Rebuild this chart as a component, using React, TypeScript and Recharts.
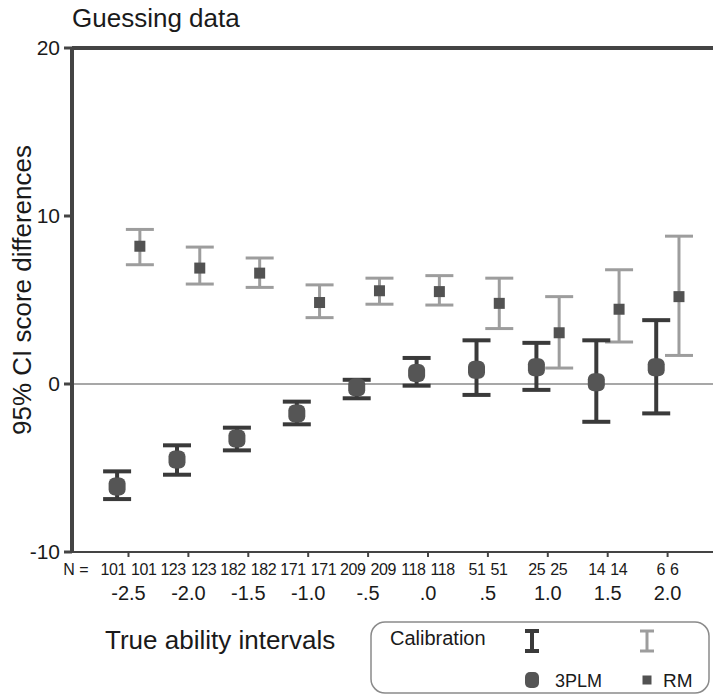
import React from 'react';
import {
  ScatterChart,
  Scatter,
  ErrorBar,
  XAxis,
  YAxis,
  ReferenceLine,
} from 'recharts';

// Ability interval categories and the sample sizes shown under each pair
const categories = ['-2.5', '-2.0', '-1.5', '-1.0', '-.5', '.0', '.5', '1.0', '1.5', '2.0'];
const nPlm = [101, 123, 182, 171, 209, 118, 51, 25, 14, 6];
const nRm = [101, 123, 182, 171, 209, 118, 51, 25, 14, 6];

// 3PLM calibration: mean and 95% CI bounds
const plmMean = [-6.1, -4.5, -3.25, -1.75, -0.2, 0.65, 0.85, 1.0, 0.1, 1.0];
const plmLow = [-6.85, -5.4, -3.95, -2.4, -0.85, -0.1, -0.65, -0.35, -2.25, -1.75];
const plmHigh = [-5.2, -3.65, -2.6, -1.05, 0.25, 1.55, 2.6, 2.45, 2.6, 3.8];

// RM calibration: mean and 95% CI bounds
const rmMean = [8.2, 6.9, 6.6, 4.85, 5.55, 5.5, 4.8, 3.05, 4.45, 5.2];
const rmLow = [7.1, 5.95, 5.75, 3.95, 4.75, 4.7, 3.3, 0.95, 2.5, 1.7];
const rmHigh = [9.2, 8.15, 7.5, 5.9, 6.3, 6.45, 6.3, 5.2, 6.8, 8.8];

const yTicks = [-10, 0, 10, 20];

const PAIR_OFFSET = 0.19;
const DARK = '#3a3a3a';
const LIGHT = '#9d9d9d';
const AXIS = '#444444';
const FONT = '"Liberation Sans", Arial, Helvetica, sans-serif';

const plmData = categories.map((_, i) => ({
  x: i - PAIR_OFFSET,
  y: plmMean[i],
  err: [plmMean[i] - plmLow[i], plmHigh[i] - plmMean[i]],
}));

const rmData = categories.map((_, i) => ({
  x: i + PAIR_OFFSET,
  y: rmMean[i],
  err: [rmMean[i] - rmLow[i], rmHigh[i] - rmMean[i]],
}));

const PlmMarker = (props: any) => {
  const { cx, cy } = props;
  if (cx == null || cy == null) return null;
  return <rect x={cx - 8.5} y={cy - 9} width={17} height={18} rx={6} fill="#555555" />;
};

const RmMarker = (props: any) => {
  const { cx, cy } = props;
  if (cx == null || cy == null) return null;
  return <rect x={cx - 5.5} y={cy - 5.5} width={11} height={11} fill="#525252" />;
};

const CategoryTick = (props: any) => {
  const { x, y, payload } = props;
  const i = payload.value as number;
  return (
    <g fontFamily={FONT} fill="#1a1a1a">
      {i === 0 && (
        <text x={x - 40} y={y + 16} textAnchor="end" fontSize={16}>
          N =
        </text>
      )}
      <text x={x - 2.5} y={y + 16} textAnchor="end" fontSize={16} letterSpacing={-0.4}>
        {nPlm[i]}
      </text>
      <text x={x + 2.5} y={y + 16} textAnchor="start" fontSize={16} letterSpacing={-0.4}>
        {nRm[i]}
      </text>
      <text x={x} y={y + 41} textAnchor="middle" fontSize={20}>
        {categories[i]}
      </text>
    </g>
  );
};

const TitleLabel = (props: any) => {
  const vb = props.viewBox || {};
  return (
    <text x={vb.x} y={vb.y - 21} fontSize={26} fontFamily={FONT} fill="#1a1a1a">
      Guessing data
    </text>
  );
};

const XTitle = (props: any) => {
  const vb = props.viewBox || {};
  return (
    <text x={vb.x + 33} y={vb.y + 97} fontSize={26} fontFamily={FONT} fill="#1a1a1a">
      True ability intervals
    </text>
  );
};

const YTitle = (props: any) => {
  const vb = props.viewBox || {};
  const cx = 22;
  const cy = vb.y + vb.height / 2 - 10;
  return (
    <text
      x={cx}
      y={cy}
      transform={`rotate(-90, ${cx}, ${cy})`}
      textAnchor="middle"
      dominantBaseline="central"
      fontSize={26}
      fontFamily={FONT}
      fill="#1a1a1a"
    >
      95% CI score differences
    </text>
  );
};

// Key for the two calibration models, drawn in a rounded box
const LegendBox = () => (
  <svg width={342} height={74} style={{ display: 'block' }}>
    <rect x={1} y={1} width={338} height={71} rx={14} fill="none" stroke="#8a8a8a" strokeWidth={1.5} />
    <text x={20} y={24} fontSize={20} fontFamily={FONT} fill="#1a1a1a">
      Calibration
    </text>
    <g stroke={DARK} strokeWidth={4}>
      <line x1={162} y1={9} x2={162} y2={31} />
      <line x1={155} y1={10} x2={169} y2={10} />
      <line x1={155} y1={30} x2={169} y2={30} />
    </g>
    <g stroke={LIGHT} strokeWidth={3}>
      <line x1={277} y1={9} x2={277} y2={31} />
      <line x1={270} y1={10} x2={284} y2={10} />
      <line x1={270} y1={30} x2={284} y2={30} />
    </g>
    <rect x={155} y={51} width={14} height={16} rx={5} fill="#555555" />
    <text x={185} y={66} fontSize={18} fontFamily={FONT} fill="#1a1a1a">
      3PLM
    </text>
    <rect x={272.5} y={54.5} width={9} height={9} fill="#525252" />
    <text x={293} y={66} fontSize={19} fontFamily={FONT} fill="#1a1a1a">
      RM
    </text>
  </svg>
);

export default function App() {
  return (
    <div style={{ position: 'relative', width: 713, height: 696, overflow: 'hidden', background: '#ffffff' }}>
      <style>{'body{margin:0;}'}</style>
      <ScatterChart
        width={713}
        height={696}
        margin={{ top: 48, right: 0, bottom: 0, left: 0 }}
        style={{ fontFamily: FONT }}
      >
        <XAxis
          type="number"
          dataKey="x"
          domain={[-0.943, 9.758]}
          allowDataOverflow
          ticks={categories.map((_, i) => i)}
          interval={0}
          height={144}
          tickSize={5}
          axisLine={{ stroke: AXIS, strokeWidth: 2 }}
          tickLine={{ stroke: AXIS, strokeWidth: 2 }}
          tick={<CategoryTick />}
          label={<XTitle />}
        />
        <YAxis
          type="number"
          dataKey="y"
          domain={[-10, 20]}
          allowDataOverflow
          ticks={yTicks}
          interval={0}
          width={72}
          tickSize={8}
          tickMargin={4}
          axisLine={{ stroke: AXIS, strokeWidth: 4 }}
          tickLine={{ stroke: AXIS, strokeWidth: 3 }}
          tick={{ fontSize: 21, fill: '#1a1a1a', fontFamily: FONT }}
          label={<YTitle />}
        />
        <ReferenceLine y={20} stroke={AXIS} strokeWidth={4} label={<TitleLabel />} />
        <ReferenceLine y={0} stroke="#8a8a8a" strokeWidth={1.5} />
        <Scatter name="RM" data={rmData} shape={<RmMarker />} isAnimationActive={false}>
          <ErrorBar dataKey="err" direction="y" width={14} stroke={LIGHT} strokeWidth={3} />
        </Scatter>
        <Scatter name="3PLM" data={plmData} shape={<PlmMarker />} isAnimationActive={false}>
          <ErrorBar dataKey="err" direction="y" width={14} stroke={DARK} strokeWidth={4} />
        </Scatter>
      </ScatterChart>
      <div style={{ position: 'absolute', left: 370, top: 621 }}>
        <LegendBox />
      </div>
    </div>
  );
}
